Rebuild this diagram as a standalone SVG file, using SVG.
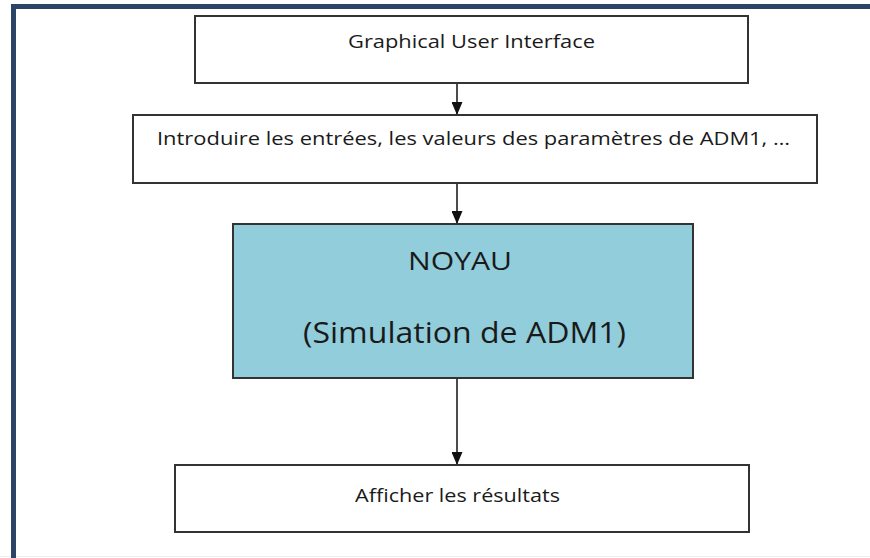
<svg xmlns="http://www.w3.org/2000/svg" width="870" height="558" viewBox="0 0 870 558">
  <style>
    .box { fill: #ffffff; stroke: #333333; stroke-width: 2; }
    .core { fill: #92cddc; stroke: #333333; stroke-width: 2; }
    .label { font-family: "Open Sans", "Liberation Sans", sans-serif; fill: #1a1a1a; text-anchor: middle; }
    .link { stroke: #111111; stroke-width: 1.5; fill: none; marker-end: url(#arrow); }
  </style>
  <defs>
    <!-- filled triangular arrowhead, tip at the line end -->
    <marker id="arrow" markerWidth="13" markerHeight="11" refX="13" refY="5.5" orient="auto" markerUnits="userSpaceOnUse" viewBox="0 0 13 11">
      <path d="M0,0 L13,5.5 L0,11 Z" fill="#111111"/>
    </marker>
  </defs>

  <!-- page background and frame -->
  <rect x="0" y="0" width="870" height="558" fill="#ffffff"/>
  <line x1="0" y1="556.5" x2="870" y2="556.5" stroke="#eeeeee" stroke-width="1"/>
  <rect x="11" y="4" width="859" height="5" fill="#2b4468"/>
  <rect x="11" y="4" width="5" height="554" fill="#2b4468"/>

  <!-- connectors -->
  <g id="connectors">
    <line class="link" x1="457" y1="83" x2="457" y2="115"/>
    <line class="link" x1="457" y1="183" x2="457" y2="224"/>
    <line class="link" x1="457" y1="378" x2="457" y2="465"/>
  </g>

  <g id="gui">
    <rect class="box" x="195" y="16" width="553" height="67"/>
    <text class="label" x="471.5" y="48" font-size="19" textLength="247" lengthAdjust="spacingAndGlyphs">Graphical User Interface</text>
  </g>

  <g id="inputs">
    <rect class="box" x="133" y="115" width="684" height="68"/>
    <text class="label" x="473.5" y="145" font-size="19" textLength="633" lengthAdjust="spacingAndGlyphs">Introduire les entrées, les valeurs des paramètres de ADM1, …</text>
  </g>

  <g id="core">
    <rect class="core" x="233" y="224" width="460" height="154"/>
    <text class="label" x="460" y="270" font-size="26" textLength="104" lengthAdjust="spacingAndGlyphs">NOYAU</text>
    <text class="label" x="464.5" y="343" font-size="30" textLength="323" lengthAdjust="spacingAndGlyphs">(Simulation de ADM1)</text>
  </g>

  <g id="results">
    <rect class="box" x="175" y="465" width="574" height="67"/>
    <text class="label" x="457.5" y="502" font-size="19" textLength="205" lengthAdjust="spacingAndGlyphs">Afficher les résultats</text>
  </g>
</svg>
